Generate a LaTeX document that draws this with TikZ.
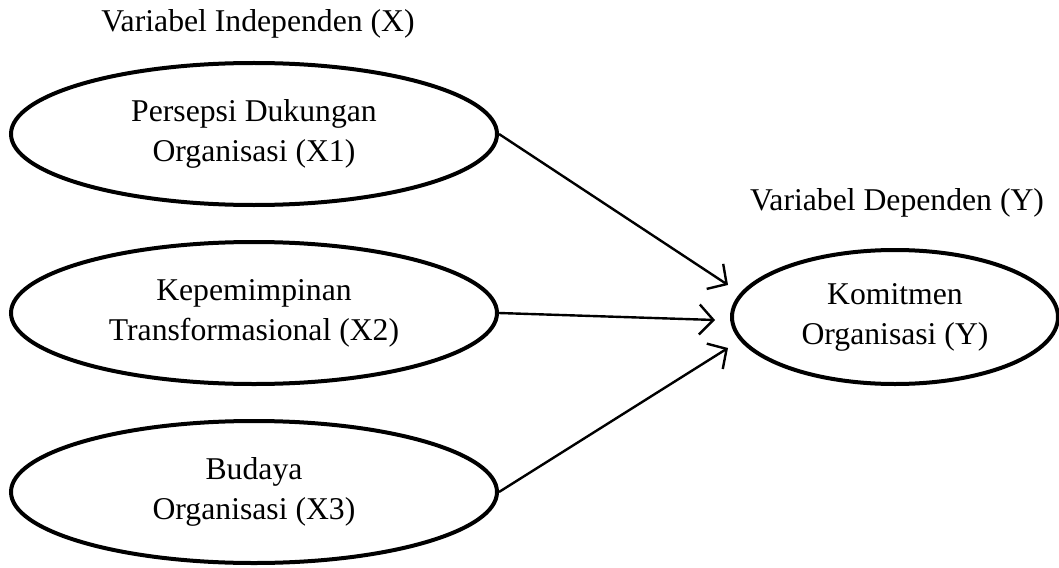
\documentclass[tikz,border=0pt]{standalone}
\usepackage{fontspec}
\setmainfont{Liberation Serif}
\usetikzlibrary{shapes.geometric,arrows.meta}
\tikzset{
  varbox/.style={ellipse, draw, line width=4pt, inner sep=0pt, align=center,
    font=\fontsize{31.7}{40}\selectfont},
  leftvar/.style={varbox, minimum width=486pt, minimum height=142pt},
  rightvar/.style={varbox, minimum width=326pt, minimum height=134pt},
  heading/.style={font=\fontsize{31.7}{38}\selectfont, inner sep=0pt},
  link/.style={line width=2.4pt, -{Straight Barb[length=14pt, width=30pt, line width=2.4pt]}}
}
\begin{document}
\begin{tikzpicture}[x=1pt,y=-1pt]
\useasboundingbox (0,0) rectangle (1059,567);
\node[heading] (hx) at (258,24) {Variabel Independen (X)};
\node[heading] (hy) at (897,203) {Variabel Dependen (Y)};
\node[leftvar] (x1) at (254,134) {Persepsi Dukungan\\Organisasi (X1)};
\node[leftvar] (x2) at (254,313) {Kepemimpinan\\Transformasional (X2)};
\node[leftvar] (x3) at (254,492) {Budaya\\Organisasi (X3)};
\node[rightvar] (y) at (895,317) {Komitmen\\Organisasi (Y)};
\coordinate (t1) at (728,285);
\coordinate (t2) at (715,320);
\coordinate (t3) at (728,348);
\draw[link] (x1.east) -- (t1);
\draw[link] (x2.east) -- (t2);
\draw[link] (x3.east) -- (t3);
\end{tikzpicture}
\end{document}
